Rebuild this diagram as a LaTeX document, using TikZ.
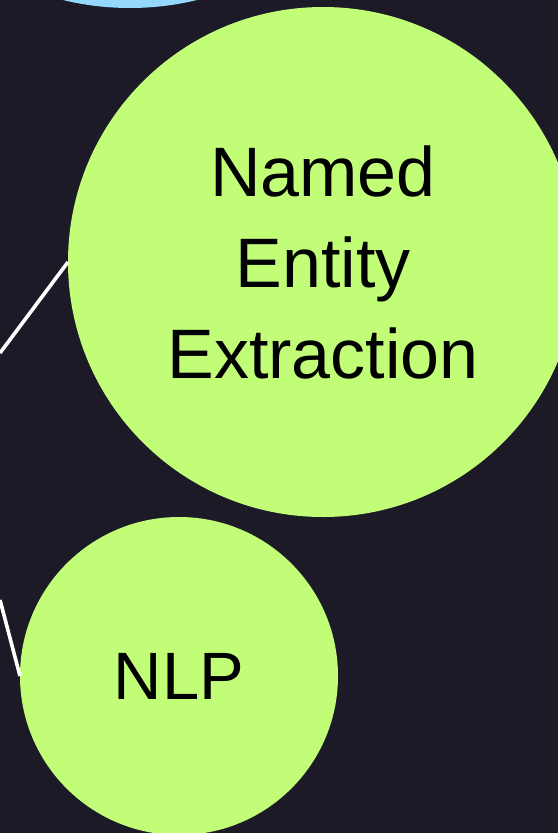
\documentclass[tikz,border=0pt]{standalone}
\usepackage{fontspec}
\setmainfont{Liberation Sans}
\definecolor{bgc}{HTML}{1C1A27}
\definecolor{greenc}{HTML}{C1FD77}
\definecolor{bluec}{HTML}{94D8FD}
\begin{document}
\begin{tikzpicture}[x=1pt,y=-1pt,
  bubble/.style={circle,inner sep=0pt,outer sep=0pt,draw=none,align=center,text=black},
  link/.style={draw=white,line width=3.6pt}]
\useasboundingbox (0,0) rectangle (558,833);
\fill[bgc] (0,0) rectangle (558,833);
\begin{scope}
\clip (0,0) rectangle (558,833);
\node[bubble,fill=bluec,minimum size=566pt] (top) at (130,-275) {};
\coordinate (l1) at (0,353);
\coordinate (l2) at (0,600);
\node[bubble,fill=greenc,minimum size=510pt,font=\fontsize{70}{91}\selectfont] (ner) at (323,262) {Named\\Entity\\Extraction};
\node[bubble,fill=greenc,minimum size=318pt,font=\fontsize{67}{80}\selectfont] (nlp) at (179,676) {NLP};
\draw[link] (l1) -- (ner.west);
\draw[link] (l2) -- (nlp.west);
\end{scope}
\end{tikzpicture}
\end{document}
